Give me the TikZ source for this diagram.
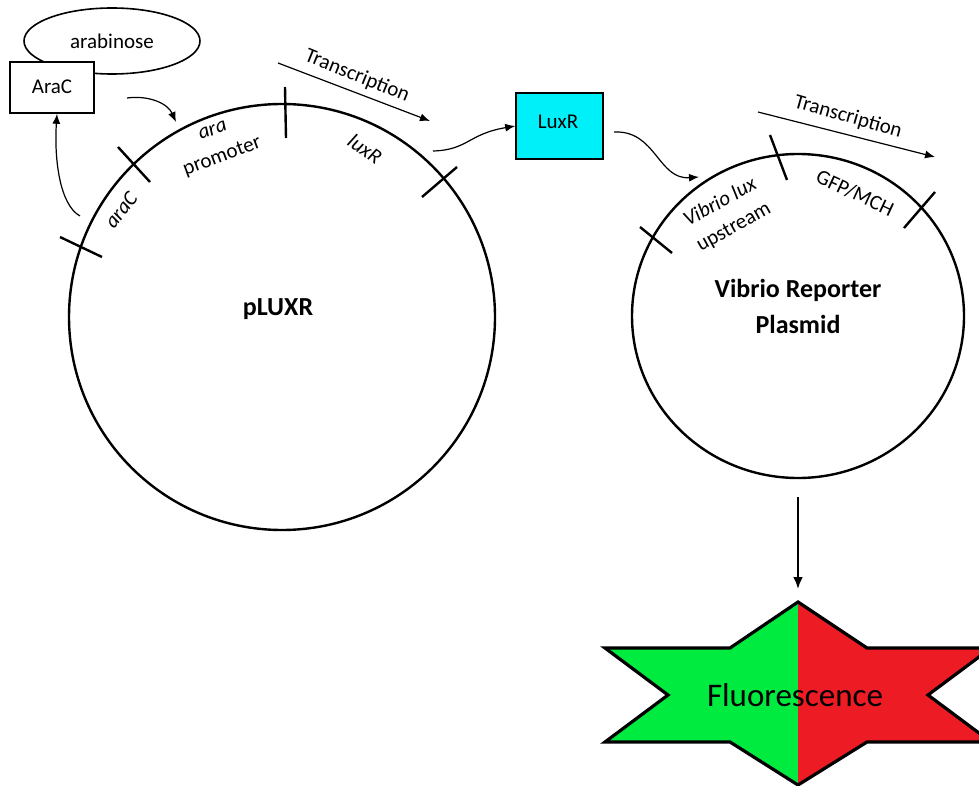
\documentclass[tikz,border=0pt]{standalone}
\usepackage{fontspec}
\setmainfont{Carlito}
\usetikzlibrary{arrows.meta,shapes.geometric}
\definecolor{starGreen}{RGB}{0,235,64}
\definecolor{starRed}{RGB}{237,28,36}
\definecolor{luxCyan}{RGB}{0,240,250}
\begin{document}
\begin{tikzpicture}[x=1pt,y=-1pt,
  txt/.style={font=\fontsize{21}{28}\selectfont, inner sep=0pt, align=center},
  boldtxt/.style={font=\fontsize{26}{36}\selectfont\bfseries, inner sep=0pt, align=center},
  plasmid/.style={draw, line width=2.4pt, inner sep=0pt},
  tick/.style={line width=2.4pt},
  flow/.style={line width=1.2pt, -{Latex[length=10pt,width=8pt]}},
  bigflow/.style={line width=2.6pt, -{Latex[length=12pt,width=10pt]}},
  box/.style={draw, line width=1.6pt, inner sep=0pt}]
\useasboundingbox (0,0) rectangle (979,786);

% arabinose and AraC
\node[box, ellipse, fill=white, minimum width=176pt, minimum height=66pt] (arab) at (112,41) {};
\node[txt] (arabt) at (112,41) {arabinose};
\node[box, fill=white, minimum width=84pt, minimum height=51pt] (arac) at (52,87.5) {};
\node[txt] (aract) at (52,87) {AraC};

% pLUXR plasmid
\node[plasmid, circle, minimum size=426pt] (pluxr) at (282,317) {};
\node[boldtxt] (pluxrt) at (278,309) {pLUXR};
\draw[tick] (285,87) -- (286,138);
\draw[tick] (118,147) -- (150,182);
\draw[tick] (60,237) -- (102,257);
\draw[tick] (422,197) -- (457,167);
\node[txt, rotate=20] (arapro) at (218,145) {\itshape ara\\promoter};
\node[txt, rotate=-35] (luxrg) at (365,149) {\itshape luxR};
\node[txt, rotate=52] (aracg) at (121,210) {\itshape araC};
\coordinate (t1s) at (278,63);
\coordinate (t1e) at (430,121);
\draw[flow] (t1s) -- (t1e);
\node[txt, rotate=-22] (t1) at (357,76) {Transcription};

% LuxR protein
\node[box, fill=luxCyan, minimum width=87pt, minimum height=66pt] (luxr) at (559.5,126) {};
\node[txt] (luxrt) at (558,122) {LuxR};

% Vibrio reporter plasmid
\node[plasmid, ellipse, minimum width=332pt, minimum height=324pt] (vib) at (798,316) {};
\node[boldtxt] (vibt) at (798,306) {Vibrio Reporter\\Plasmid};
\draw[tick] (640,227) -- (672,253);
\draw[tick] (770,135) -- (787,180);
\draw[tick] (935,192) -- (904,228);
\node[txt, rotate=29] (vlux) at (727,215) {\itshape Vibrio lux\\upstream};
\node[txt, rotate=-25] (gfp) at (855,193) {GFP/MCH};
\coordinate (t2s) at (758,112);
\coordinate (t2e) at (935,157);
\draw[flow] (t2s) -- (t2e);
\node[txt, rotate=-16] (t2) at (848,117) {Transcription};

% curved connectors
\coordinate (a1s) at (127,98);
\coordinate (a1e) at (176,122);
\draw[flow] (a1s) .. controls (150,95) and (168,104) .. (a1e);
\coordinate (a2s) at (80,216);
\draw[flow] (a2s) .. controls (60,205) and (54,160) .. (arac.south -| 57,0);
\coordinate (a3s) at (433,151);
\draw[flow] (a3s) .. controls (468,150) and (468,134) .. (luxr.west);
\coordinate (a4s) at (614,132);
\coordinate (a4e) at (699,177);
\draw[flow] (a4s) .. controls (656,130) and (658,180) .. (a4e);

% Fluorescence star
\coordinate (stop) at (798,602);
\begin{scope}
\clip (798,602) -- (867,648) -- (991,648) -- (928,695) -- (991,742) -- (867,742) -- (798,785) -- (730,742) -- (605,742) -- (668,695) -- (605,648) -- (730,648) -- cycle;
\fill[starGreen] (590,590) rectangle (798,790);
\fill[starRed] (798,590) rectangle (1000,790);
\end{scope}
\draw[line width=3.2pt, line join=miter] (798,602) -- (867,648) -- (991,648) -- (928,695) -- (991,742) -- (867,742) -- (798,785) -- (730,742) -- (605,742) -- (668,695) -- (605,648) -- (730,648) -- cycle;
\node[font=\fontsize{33}{40}\selectfont, inner sep=0pt] (fluo) at (795,695) {Fluorescence};
\coordinate (dstart) at (798,497);
\draw[bigflow] (dstart) -- ([yshift=13pt]stop);
\end{tikzpicture}
\end{document}
